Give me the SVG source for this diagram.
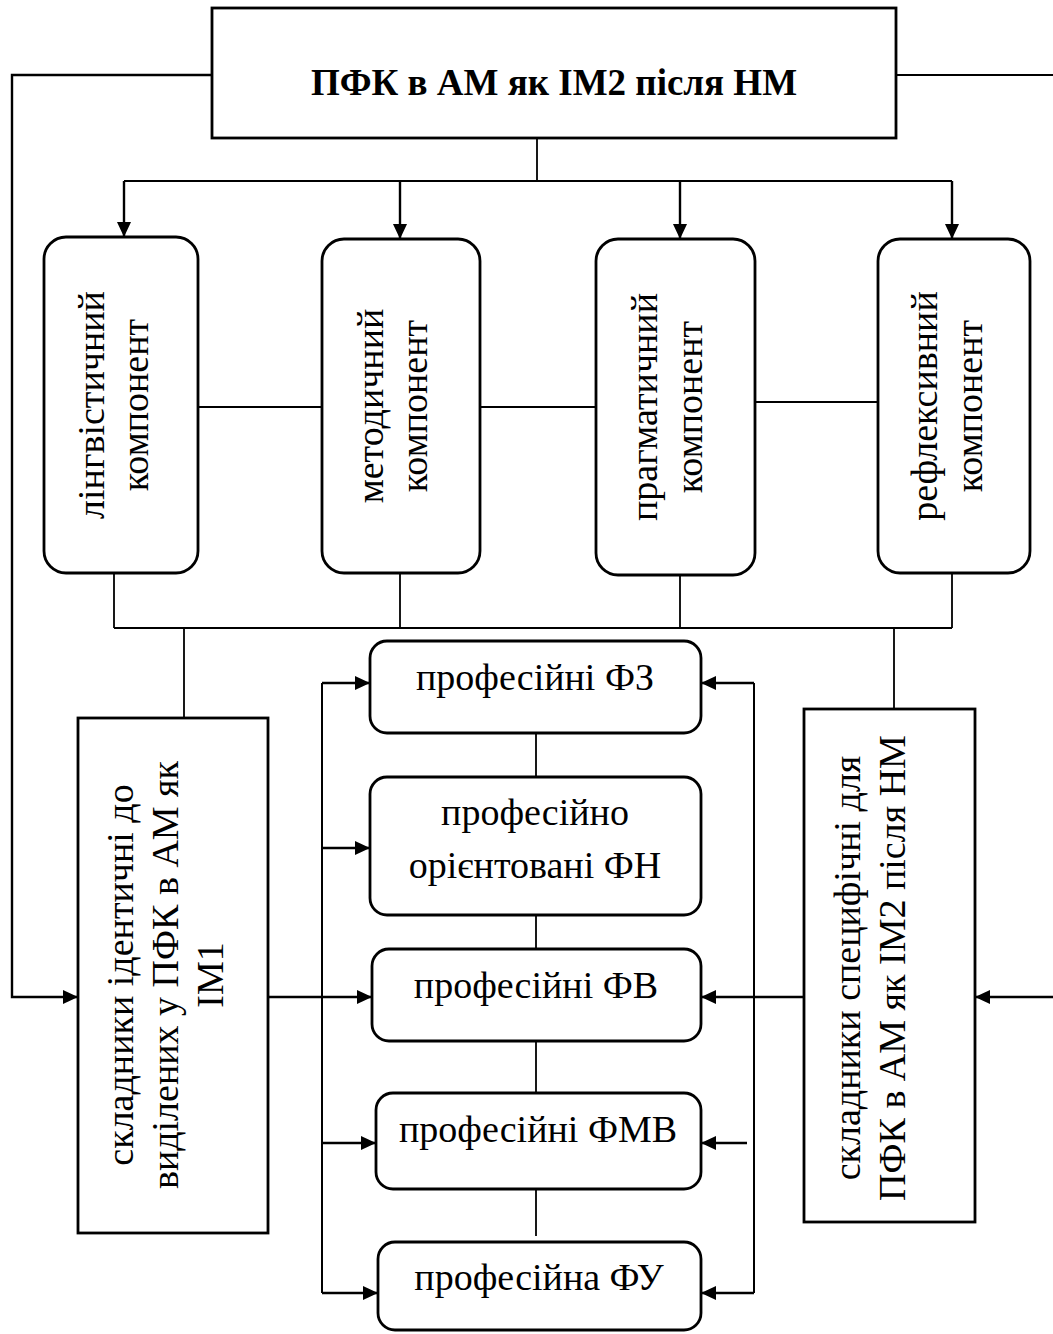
<svg xmlns="http://www.w3.org/2000/svg" width="1053" height="1334" viewBox="0 0 1053 1334">
<style>
text{font-family:"Liberation Serif","Times New Roman",serif;font-size:38px;fill:#000;text-anchor:middle}
.title{font-weight:bold;font-size:37px}
.box{fill:#fff;stroke:#000;stroke-width:2.8}
.ln{fill:none;stroke:#000;stroke-width:1.8}
.ar{fill:none;stroke:#000;stroke-width:2.4;marker-end:url(#ah)}
</style>
<defs>
<marker id="ah" viewBox="0 0 15 14" refX="15" refY="7" markerWidth="15" markerHeight="14" markerUnits="userSpaceOnUse" orient="auto">
<path d="M0,0 L15,7 L0,14 Z" fill="#000"/>
</marker>
</defs>
<rect width="1053" height="1334" fill="#fff"/>
<g id="connectors">
<path class="ar" d="M212,75 H12 V997 H78"/>
<path class="ln" d="M896,75 H1053"/>
<path class="ln" d="M537,138 V181 M124,181 H952"/>
<path class="ar" d="M124,181 V237"/>
<path class="ar" d="M400,181 V239"/>
<path class="ar" d="M680,181 V239"/>
<path class="ar" d="M952,181 V239"/>
<path class="ln" d="M198,407 H322 M480,407 H596 M755,402 H878"/>
<path class="ln" d="M114,573 V628 M400,573 V628 M680,575 V628 M952,573 V628 M114,628 H952"/>
<path class="ln" d="M184,628 V718 M894,628 V709"/>
<path class="ar" d="M268,997 H372"/>
<path class="ln" d="M322,683 V1293 M754,683 V1293" style="stroke-width:2"/>
<path class="ar" d="M322,683 H370"/>
<path class="ar" d="M322,848 H370"/>
<path class="ar" d="M322,1143 H376"/>
<path class="ar" d="M322,1293 H378"/>
<path class="ar" d="M754,683 H701"/>
<path class="ar" d="M747,1143 H701"/>
<path class="ar" d="M754,1293 H701"/>
<path class="ar" d="M804,997 H701"/>
<path class="ar" d="M1053,997 H975"/>
<path class="ln" d="M536,733 V777 M536,915 V949 M536,1041 V1093 M536,1189 V1236"/>
</g>
<g id="top">
<rect class="box" x="212" y="8" width="684" height="130"/>
<text class="title" x="554" y="95">ПФК в АМ як ІМ2 після НМ</text>
</g>
<g id="ling">
<rect class="box" x="44" y="237" width="154" height="336" rx="22"/>
<text transform="translate(104,405) rotate(-90)">лінгвістичний</text>
<text transform="translate(148,405) rotate(-90)">компонент</text>
</g>
<g id="metod">
<rect class="box" x="322" y="239" width="158" height="334" rx="22"/>
<text transform="translate(383,406) rotate(-90)">методичний</text>
<text transform="translate(427,406) rotate(-90)">компонент</text>
</g>
<g id="prag">
<rect class="box" x="596" y="239" width="159" height="336" rx="22"/>
<text transform="translate(657,407) rotate(-90)">прагматичний</text>
<text transform="translate(702,407) rotate(-90)">компонент</text>
</g>
<g id="refl">
<rect class="box" x="878" y="239" width="152" height="334" rx="22"/>
<text transform="translate(937,406) rotate(-90)">рефлексивний</text>
<text transform="translate(982,406) rotate(-90)">компонент</text>
</g>
<g id="ident">
<rect class="box" x="78" y="718" width="190" height="515"/>
<text transform="translate(133,975) rotate(-90)">складники ідентичні до</text>
<text transform="translate(178,975) rotate(-90)">виділених у ПФК в АМ як</text>
<text transform="translate(223,975) rotate(-90)">ІМ1</text>
</g>
<g id="spec">
<rect class="box" x="804" y="709" width="171" height="513"/>
<text transform="translate(860,968) rotate(-90)">складники специфічні для</text>
<text transform="translate(905,968) rotate(-90)">ПФК в АМ як ІМ2 після НМ</text>
</g>
<g id="fz">
<rect class="box" x="370" y="641" width="331" height="92" rx="17"/>
<text x="535" y="690">професійні ФЗ</text>
</g>
<g id="fn">
<rect class="box" x="370" y="777" width="331" height="138" rx="17"/>
<text x="535" y="825">професійно</text>
<text x="535" y="878">орієнтовані ФН</text>
</g>
<g id="fv">
<rect class="box" x="372" y="949" width="329" height="92" rx="17"/>
<text x="536" y="998">професійні ФВ</text>
</g>
<g id="fmv">
<rect class="box" x="376" y="1093" width="325" height="96" rx="17"/>
<text x="538" y="1142">професійні ФМВ</text>
</g>
<g id="fu">
<rect class="box" x="378" y="1242" width="323" height="88" rx="17"/>
<text x="539" y="1290">професійна ФУ</text>
</g>
</svg>
